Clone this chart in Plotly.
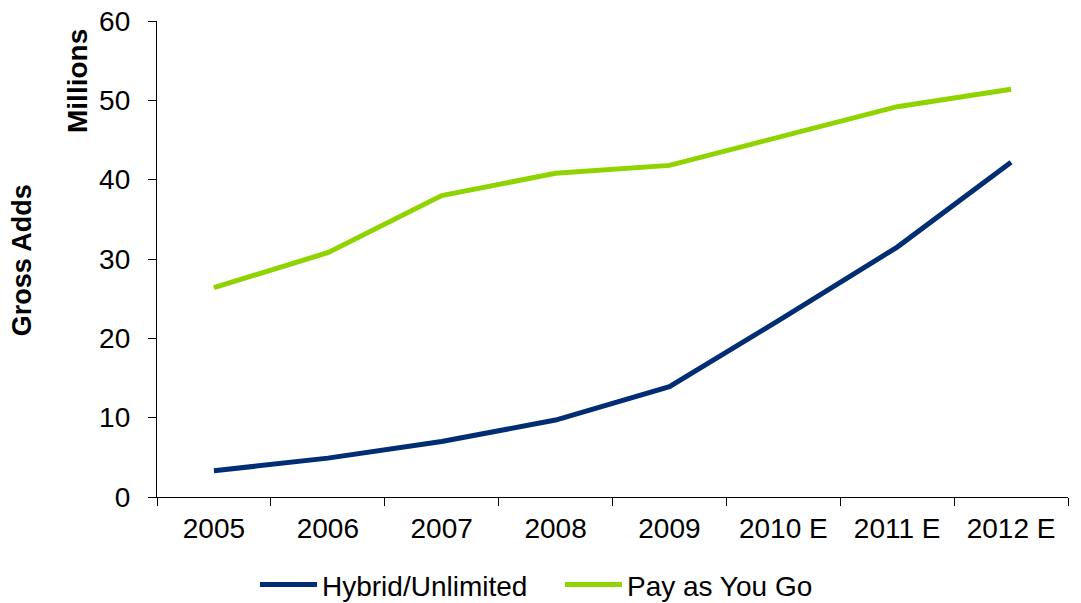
import plotly.graph_objects as go

years = ["2005", "2006", "2007", "2008", "2009", "2010 E", "2011 E", "2012 E"]
hybrid_unlimited = [3.3, 4.9, 7.0, 9.7, 13.9, 22.6, 31.5, 42.2]
pay_as_you_go = [26.4, 30.8, 38.0, 40.8, 41.8, 45.5, 49.2, 51.4]
y_ticks = [0, 10, 20, 30, 40, 50, 60]

FONT = "Liberation Sans, Arial, sans-serif"
BLUE = "#002D74"
GREEN = "#8FD400"

fig = go.Figure()
fig.add_trace(go.Scatter(x=years, y=hybrid_unlimited, mode="lines", name="Hybrid/Unlimited",
                         line=dict(color=BLUE, width=5)))
fig.add_trace(go.Scatter(x=years, y=pay_as_you_go, mode="lines", name="Pay as You Go",
                         line=dict(color=GREEN, width=5)))

fig.update_layout(
    width=1081, height=603,
    margin=dict(l=157, r=13, t=21, b=106, autoexpand=False),
    paper_bgcolor="white", plot_bgcolor="white",
    font=dict(family=FONT, size=28, color="black"),
    showlegend=True,
    legend=dict(orientation="h", x=255 / 1081, xanchor="left", xref="container",
                y=0.03, yanchor="middle", yref="container",
                font=dict(family=FONT, size=28, color="black"),
                itemwidth=57, entrywidth=233, entrywidthmode="pixels",
                bgcolor="rgba(0,0,0,0)"),
    xaxis=dict(type="category", range=[-0.5, 7.5], tickson="boundaries",
               ticks="outside", ticklen=8, tickwidth=1.3, tickcolor="black",
               showline=True, linecolor="black", linewidth=1.3,
               showgrid=False, zeroline=False, ticklabelstandoff=6,
               tickfont=dict(family=FONT, size=28, color="black")),
    yaxis=dict(range=[0, 60], tickvals=y_ticks, ticks="outside", ticklen=8,
               tickwidth=1.3, tickcolor="black",
               showline=True, linecolor="black", linewidth=1.3,
               showgrid=False, zeroline=False, ticklabelstandoff=12,
               tickfont=dict(family=FONT, size=28, color="black")),
    annotations=[
        dict(text="<b>Gross Adds</b>", textangle=-90, xref="paper", yref="paper",
             x=-0.148, y=0.4976, xanchor="center", yanchor="middle", showarrow=False,
             font=dict(family=FONT, size=27, color="black")),
        dict(text="<b>Millions</b>", textangle=-90, xref="paper", yref="paper",
             x=-0.0867, y=0.874, xanchor="center", yanchor="middle", showarrow=False,
             font=dict(family=FONT, size=28, color="black")),
    ],
)

fig.write_html("out.html")
